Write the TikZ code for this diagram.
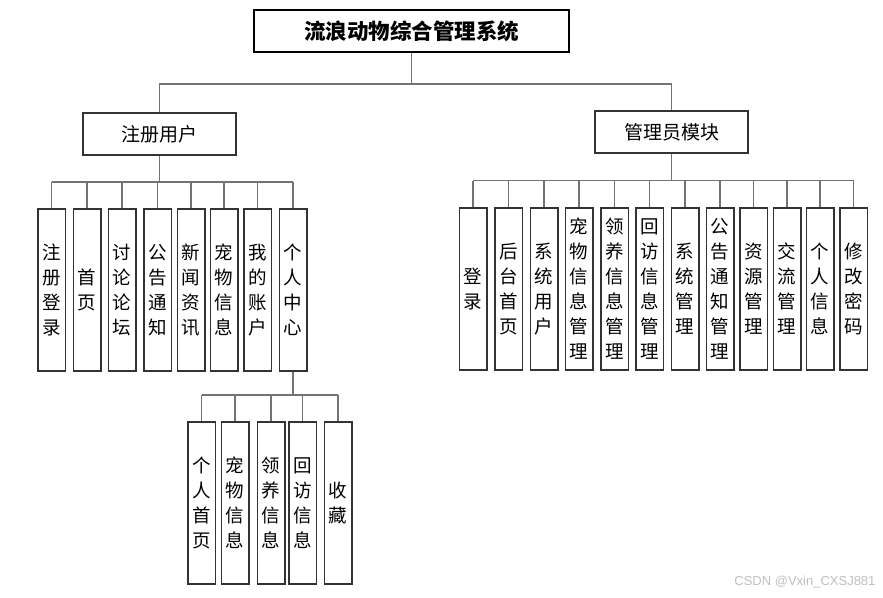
\documentclass[tikz,border=0pt]{standalone}
\usepackage{fontspec}
\setmainfont{Noto Sans CJK SC}
\newfontfamily\wmfont{Liberation Sans}
\begin{document}
\begin{tikzpicture}[x=1pt,y=-1pt,
  box/.style={draw=black!80, line width=1.5pt, inner sep=0pt, fill=white},
  headbox/.style={box, minimum width=153, minimum height=42, font=\fontsize{19}{23}\selectfont},
  col/.style={box, minimum width=27.5, minimum height=162, align=center,
              font=\fontsize{18.5}{25}\selectfont},
  link/.style={draw=black!55, line width=1.6pt}]
\useasboundingbox (0,0) rectangle (883,597);

% top level
\node[box, draw=black, minimum width=315, minimum height=42,
      font=\fontsize{21.5}{25}\selectfont\bfseries] (root) at (411.5,31) {流浪动物综合管理系统};
\node[headbox] (user)  at (159.5,134) {注册用户};
\node[headbox] (admin) at (671.5,132) {管理员模块};

% bus rows
\coordinate (busTop)   at (0,84);
\coordinate (busUser)  at (0,182);
\coordinate (busAdmin) at (0,180.5);
\coordinate (busSub)   at (0,395);

% registered-user modules
\foreach \n/\x/\t in {u1/51.5/注\\册\\登\\录, u2/87/首\\页, u3/122/讨\\论\\论\\坛,
    u4/157.5/公\\告\\通\\知, u5/191/新\\闻\\资\\讯, u6/224/宠\\物\\信\\息,
    u7/257.5/我\\的\\账\\户, u8/293/个\\人\\中\\心}
  \node[col] (\n) at (\x,290) {\t};

% personal-centre modules
\foreach \n/\x/\t in {s1/201.5/个\\人\\首\\页, s2/235/宠\\物\\信\\息,
    s3/271/领\\养\\信\\息, s4/302.5/回\\访\\信\\息, s5/338/收\\藏}
  \node[col] (\n) at (\x,503) {\t};

% administrator modules
\foreach \n/\x/\t in {a1/473/登\\录, a2/508.5/后\\台\\首\\页, a3/544/系\\统\\用\\户,
    a4/579/宠\\物\\信\\息\\管\\理, a5/614.5/领\\养\\信\\息\\管\\理,
    a6/649.5/回\\访\\信\\息\\管\\理, a7/685/系\\统\\管\\理,
    a8/720/公\\告\\通\\知\\管\\理, a9/753.5/资\\源\\管\\理,
    a10/787/交\\流\\管\\理, a11/820/个\\人\\信\\息, a12/853.5/修\\改\\密\\码}
  \node[col] (\n) at (\x,289) {\t};

% connectors: root level
\draw[link] (root.south) -- (root.south |- busTop);
\draw[link] (user.north) -- (user.north |- busTop) -- (admin.north |- busTop) -- (admin.north);

% connectors: registered user
\draw[link] (user.south) -- (user.south |- busUser);
\draw[link] (u1.north |- busUser) -- (u8.north |- busUser);
\foreach \n in {u1,u2,u3,u4,u5,u6,u7,u8}
  \draw[link] (\n.north |- busUser) -- (\n.north);

% connectors: personal centre
\draw[link] (u8.south) -- (u8.south |- busSub);
\draw[link] (s1.north |- busSub) -- (s5.north |- busSub);
\foreach \n in {s1,s2,s3,s4,s5}
  \draw[link] (\n.north |- busSub) -- (\n.north);

% connectors: administrator
\draw[link] (admin.south) -- (admin.south |- busAdmin);
\draw[link] (a1.north |- busAdmin) -- (a12.north |- busAdmin);
\foreach \n in {a1,a2,a3,a4,a5,a6,a7,a8,a9,a10,a11,a12}
  \draw[link] (\n.north |- busAdmin) -- (\n.north);

% watermark
\node[font=\wmfont\fontsize{13}{13}\selectfont, text=black!25, anchor=east] (wm)
  at (879,582) {CSDN @Vxin\_CXSJ881};
\end{tikzpicture}
\end{document}
